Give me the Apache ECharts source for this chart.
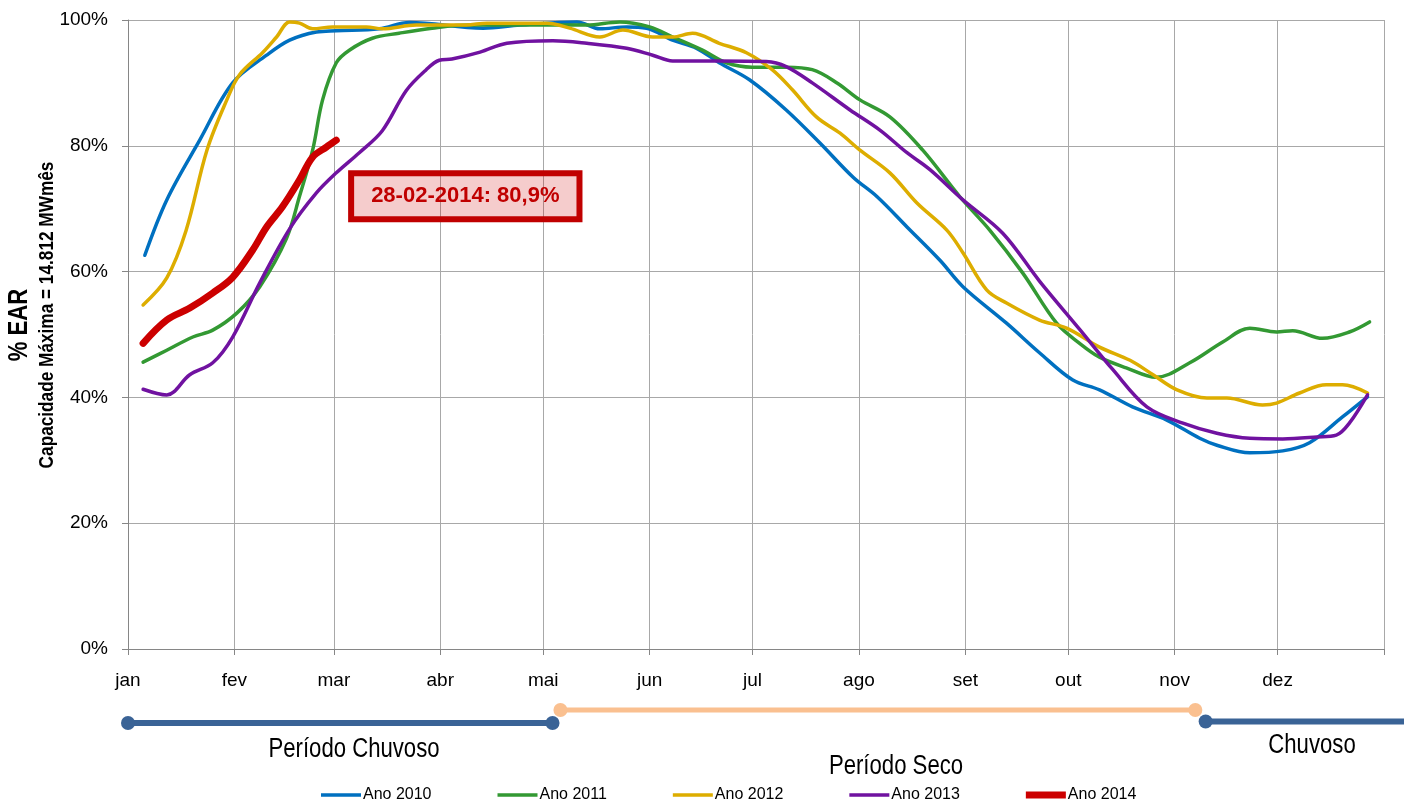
<!DOCTYPE html>
<html>
<head>
<meta charset="utf-8">
<script src="https://cdn.jsdelivr.net/npm/echarts@6/dist/echarts.min.js"></script>
<style>
  html, body { margin: 0; padding: 0; background: #ffffff; }
  #chart { width: 1404px; height: 810px; }
</style>
</head>
<body>
<div id="chart"></div>
<script>
// Stored energy (% EAR) per year, day of year (leap-year calendar) vs. percentage of maximum capacity
const monthLabels = ['jan', 'fev', 'mar', 'abr', 'mai', 'jun', 'jul', 'ago', 'set', 'out', 'nov', 'dez'];
const monthStarts = [0, 31, 60, 91, 121, 152, 182, 213, 244, 274, 305, 335, 366];
const yTicks = [0, 20, 40, 60, 80, 100];

const days2010 = [4.9, 11.3, 20.9, 30.5, 40.4, 47.1, 54.9, 60.7, 73.2, 82, 103.5, 114.2, 130.8, 137.5, 145.3, 151.1, 158.7, 165.7, 172.3, 181.1, 191.8, 201.7, 211.3, 218.3, 227, 236.6, 243.3, 256, 265.6, 275.2, 283.1, 292.7, 302.7, 312.3, 317.3, 326.9, 336.5, 344.3, 353.9, 361.2];
const ear2010  = [62.6, 71.4, 80.9, 90.0, 94.4, 96.8, 98.1, 98.3, 98.6, 99.6, 98.7, 99.2, 99.7, 98.6, 98.9, 98.7, 96.8, 95.5, 93.2, 90.5, 85.7, 80.4, 75.0, 71.9, 67.1, 61.8, 57.6, 51.8, 47.1, 42.8, 41.2, 38.5, 36.4, 33.5, 32.4, 31.2, 31.5, 32.8, 36.9, 40.1];

const days2011 = [4.4, 11.3, 18.9, 24.7, 31.7, 38.4, 46.2, 50, 53.8, 56.7, 60.7, 64.5, 71.2, 79, 88.6, 99.4, 133.7, 143.3, 152, 158.7, 167.4, 174.4, 181.9, 191.8, 199.4, 206.6, 213.3, 222, 231.6, 242.4, 251.1, 260.7, 270.6, 277.3, 283.1, 290.9, 299.6, 309.4, 319, 326.9, 334.7, 339.4, 348.1, 355.9, 361.8];
const ear2011  = [45.6, 47.5, 49.6, 50.7, 53.4, 57.6, 65.3, 72.0, 79.3, 87.3, 93.2, 95.2, 97.1, 97.9, 98.7, 99.2, 99.2, 99.7, 98.9, 97.3, 95.2, 93.2, 92.5, 92.5, 92.1, 90.0, 87.3, 84.6, 79.3, 71.9, 66.6, 59.8, 51.8, 48.6, 46.4, 44.7, 43.2, 45.5, 48.8, 51.0, 50.4, 50.6, 49.4, 50.4, 52.0];

const days2012 = [4.4, 11.3, 16.9, 23, 28.8, 32.5, 39.2, 43.3, 47.1, 50, 53.8, 59.6, 69.5, 74.1, 84, 98.5, 104.6, 122.1, 128.7, 137.5, 144.2, 152.9, 158.7, 164.5, 172.3, 180.2, 187.7, 193.6, 200.6, 207.5, 213.3, 222, 229.9, 238.6, 243.3, 250.2, 256, 265.6, 273.5, 283.1, 292, 298.7, 305.7, 314.4, 320.2, 330.6, 334.7, 341.4, 349.2, 353.9, 361.2];
const ear2012  = [54.7, 59.0, 66.5, 79.3, 87.3, 91.3, 94.8, 97.3, 99.7, 99.5, 98.6, 98.9, 98.9, 98.6, 99.2, 99.2, 99.5, 99.5, 98.7, 97.3, 98.4, 97.3, 97.3, 97.9, 96.3, 94.8, 92.1, 88.9, 84.6, 82.0, 79.3, 75.7, 70.9, 66.6, 63.0, 57.1, 55.0, 52.3, 51.0, 48.0, 45.9, 43.6, 41.2, 39.9, 39.9, 38.8, 39.1, 40.7, 42.0, 42.0, 40.7];

const days2013 = [4.4, 11.3, 18, 24.7, 30.5, 38.4, 47.1, 54.9, 60.7, 67.4, 74.1, 81.1, 86.9, 90.7, 94.4, 102.6, 110.4, 123.8, 133.7, 145.3, 152.9, 158.7, 172.3, 186, 191.8, 199.4, 210.4, 219.1, 227, 233.7, 243.3, 254.9, 265.6, 277.5, 287, 296.9, 307.4, 317.3, 326.9, 336.5, 346.4, 352.1, 355.9, 361.2];
const ear2013  = [41.3, 40.4, 43.6, 45.5, 49.6, 58.2, 66.8, 72.5, 75.7, 78.9, 82.4, 88.8, 92.1, 93.6, 93.8, 94.9, 96.3, 96.7, 96.3, 95.5, 94.4, 93.5, 93.5, 93.4, 92.6, 90.0, 85.7, 82.5, 78.9, 76.2, 71.4, 66.1, 58.5, 50.7, 44.4, 38.5, 35.9, 34.3, 33.5, 33.4, 33.7, 34.0, 35.9, 40.4];

const days2014 = [4.4, 11.3, 18, 24.7, 30.5, 36.3, 40.4, 45, 50, 53.8, 57.8, 60.7];
const ear2014  = [48.6, 52.3, 54.2, 56.6, 59.1, 63.4, 67.1, 70.3, 74.6, 78.2, 79.8, 80.9];

const lastReadingDate = '28-02-2014';

// Rainy / dry season spans (day of year); the last one runs on past December
const rainySpan1 = [0, 123.7];
const drySpan = [126, 311];
const rainySpan2 = [314, 371.8];
const seasonAxisMax = 371.8; // season strip runs to the page's right edge

const FONT = "'Liberation Sans', Arial, sans-serif";
const NARROW = 0.82; // horizontal squeeze for the condensed captions

// line icons for the legend (tiny corner points keep the box height)
const legendLine = 'path://M0,0L0.05,0L0,0.05Z M0,2.3L40,2.3L40,5.7L0,5.7Z M0,7.95L0.05,8L0,8Z';
const legendThick = 'path://M0,0L0.05,0L0,0.05Z M0,0.6L40,0.6L40,7.4L0,7.4Z M0,7.95L0.05,8L0,8Z';

function pairs(days, vals) {
  return days.map((d, i) => [d, vals[i]]);
}

function yearLine(name, days, vals, color, width) {
  return {
    name: name,
    type: 'line',
    data: pairs(days, vals),
    smooth: 0.35,
    symbol: 'none',
    color: color,
    itemStyle: { color: color },
    lineStyle: { color: color, width: width, cap: 'round', join: 'round' },
    xAxisIndex: 0,
    yAxisIndex: 0
  };
}

function spanLine(span, level, color, width, openEnd) {
  const end = openEnd ? { value: [span[1], level], symbol: 'none' } : [span[1], level];
  return {
    type: 'line',
    xAxisIndex: 1,
    yAxisIndex: 1,
    data: [[span[0], level], end],
    symbol: 'circle',
    symbolSize: 14,
    showSymbol: true,
    clip: false,
    silent: true,
    color: color,
    itemStyle: { color: color },
    lineStyle: { color: color, width: width },
    tooltip: { show: false }
  };
}

const series2014 = yearLine('Ano 2014', days2014, ear2014, '#CC0000', 7);
const lastIdx = days2014.length - 1;
series2014.markPoint = {
  silent: true,
  symbol: 'circle',
  symbolSize: 1,
  itemStyle: { color: 'rgba(0,0,0,0)' },
  label: {
    show: true,
    position: 'inside',
    offset: [129, 56],
    color: '#C00000',
    fontFamily: FONT,
    fontWeight: 'bold',
    fontSize: 22,
    lineHeight: 26,
    backgroundColor: 'rgba(204,0,0,0.2)',
    borderColor: '#C00000',
    borderWidth: 3,
    padding: [11, 20, 9, 20],
    formatter: p => lastReadingDate + ': ' + p.value.toFixed(1).replace('.', ',') + '%'
  },
  data: [{ coord: [days2014[lastIdx], ear2014[lastIdx]], value: ear2014[lastIdx] }]
};

function caption(text, x, y, size, bold, rotate) {
  return {
    type: 'text',
    x: x,
    y: y,
    rotation: rotate ? Math.PI / 2 : 0,
    scaleX: NARROW,
    style: {
      text: text,
      font: (bold ? 'bold ' : '') + size + 'px ' + FONT,
      fill: '#000',
      align: 'center',
      verticalAlign: 'middle'
    }
  };
}

const chart = echarts.init(document.getElementById('chart'));

chart.setOption({
  animation: false,
  backgroundColor: '#ffffff',
  textStyle: { fontFamily: FONT, color: '#000' },
  grid: [
    { left: 128, right: 20, top: 20, bottom: 161 },
    { left: 128, right: 0, top: 700, height: 30 }
  ],
  xAxis: [
    {
      type: 'value',
      min: 0,
      max: 366,
      axisLine: { show: true, lineStyle: { color: '#868686', width: 1 } },
      axisTick: { show: true, customValues: monthStarts, length: 6, lineStyle: { color: '#868686' } },
      axisLabel: {
        customValues: monthStarts.slice(0, 12),
        formatter: v => monthLabels[monthStarts.indexOf(v)],
        fontSize: 19,
        fontFamily: FONT,
        color: '#000',
        margin: 22
      },
      splitLine: { show: true, lineStyle: { color: '#A8A8A8', width: 1 } }
    },
    { type: 'value', gridIndex: 1, min: 0, max: seasonAxisMax, show: false }
  ],
  yAxis: [
    {
      type: 'value',
      min: yTicks[0],
      max: yTicks[yTicks.length - 1],
      interval: 20,
      axisLine: { show: true, lineStyle: { color: '#868686', width: 1 } },
      axisTick: { show: true, length: 6, lineStyle: { color: '#868686' } },
      axisLabel: { formatter: '{value}%', fontSize: 19, fontFamily: FONT, color: '#000', margin: 20 },
      splitLine: { show: true, lineStyle: { color: '#A8A8A8', width: 1 } }
    },
    { type: 'value', gridIndex: 1, min: 0, max: 30, show: false }
  ],
  legend: {
    data: [
      { name: 'Ano 2010', icon: legendLine },
      { name: 'Ano 2011', icon: legendLine },
      { name: 'Ano 2012', icon: legendLine },
      { name: 'Ano 2013', icon: legendLine },
      { name: 'Ano 2014', icon: legendThick }
    ],
    left: 321,
    top: 787,
    padding: 0,
    itemWidth: 40,
    itemHeight: 8,
    itemGap: 66,
    itemStyle: { borderWidth: 0 },
    textStyle: { fontSize: 16, fontFamily: FONT, color: '#000', padding: [0, 0, 0, -3] }
  },
  graphic: [
    caption('% EAR', 20, 325, 27, true, true),
    caption('Capacidade Máxima = 14.812 MWmês', 47, 315, 21, true, true),
    caption('Período Chuvoso', 354, 750, 27, false, false),
    caption('Período Seco', 896, 767, 27, false, false),
    caption('Chuvoso', 1312, 746, 27, false, false)
  ],
  series: [
    yearLine('Ano 2010', days2010, ear2010, '#0070C0', 3.5),
    yearLine('Ano 2011', days2011, ear2011, '#339933', 3.5),
    yearLine('Ano 2012', days2012, ear2012, '#DDAD00', 3.5),
    yearLine('Ano 2013', days2013, ear2013, '#7012A0', 3.5),
    series2014,
    spanLine(rainySpan1, 7, '#3A6396', 6, false),
    spanLine(drySpan, 20, '#FAC090', 5, false),
    spanLine(rainySpan2, 8.5, '#3A6396', 6, true)
  ]
});
</script>
</body>
</html>
